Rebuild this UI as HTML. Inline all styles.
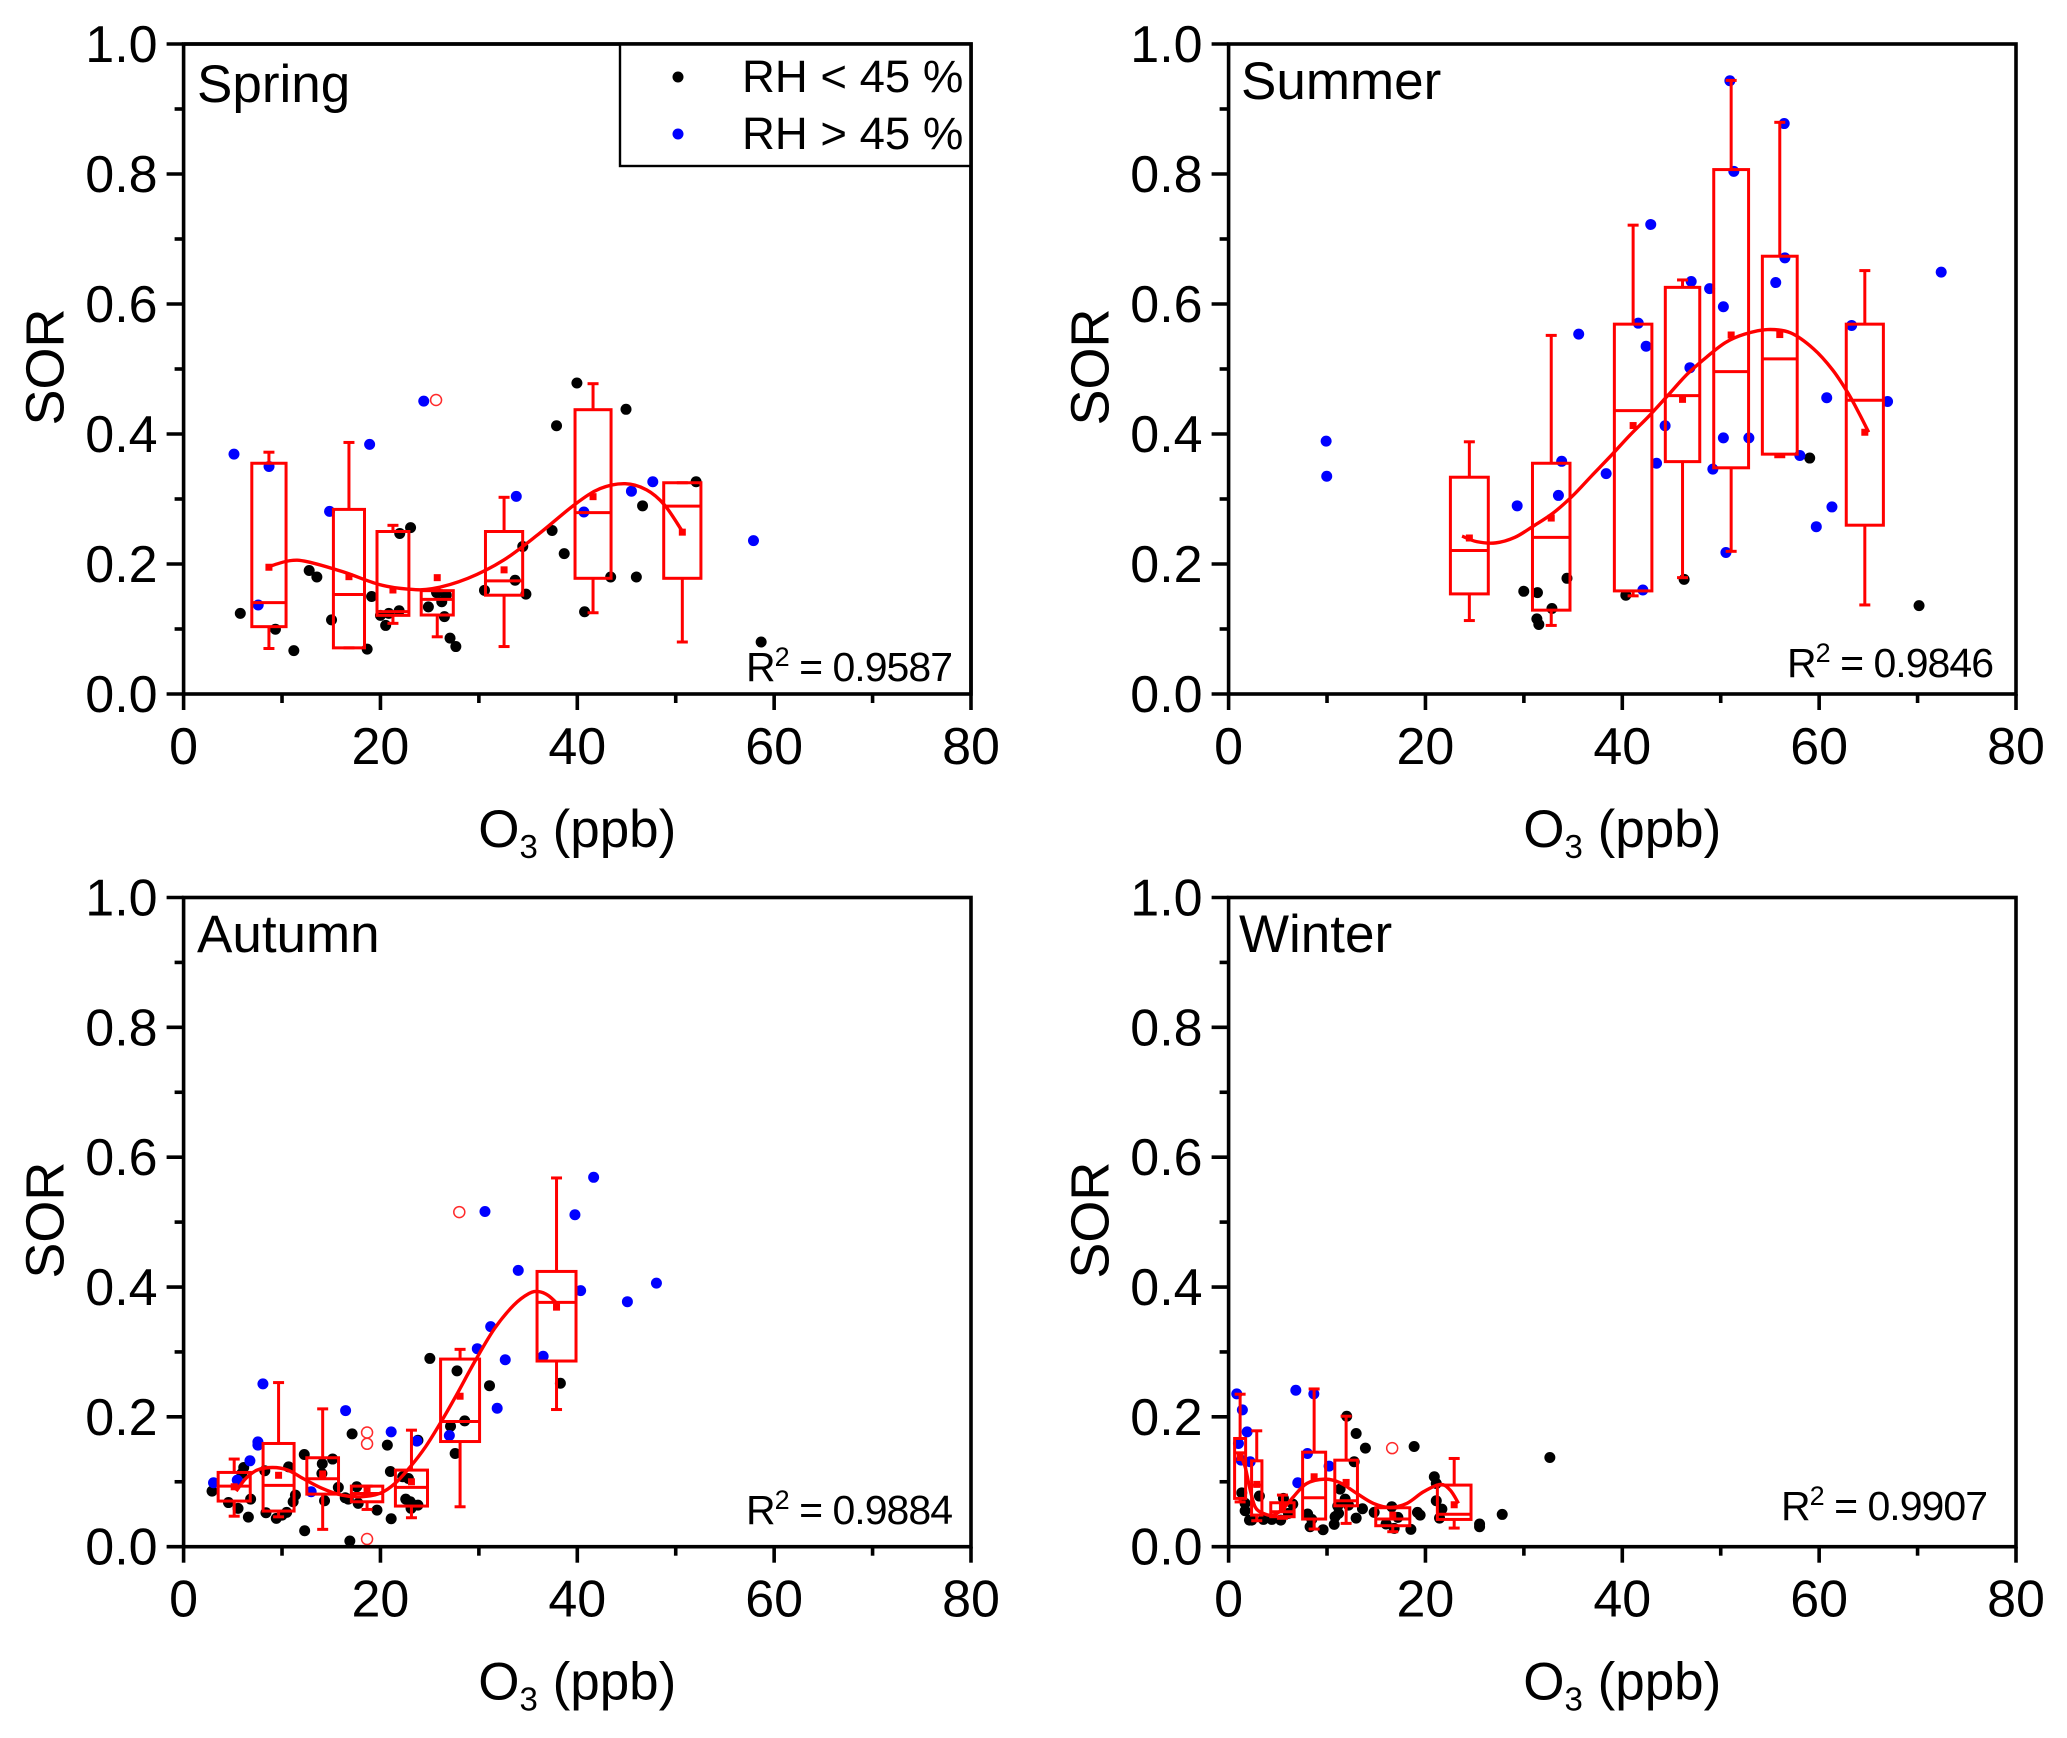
<!DOCTYPE html>
<html lang="en">
<head>
<meta charset="utf-8">
<title>SOR vs O3 by season</title>
<style>
html,body{margin:0;padding:0;background:#fff;width:2067px;height:1738px;overflow:hidden}
svg{display:block}
text{font-family:"Liberation Sans",sans-serif;fill:#000}
</style>
</head>
<body>
<svg id="figure" xmlns="http://www.w3.org/2000/svg" width="2067" height="1738" viewBox="0 0 2067 1738"></svg>
<script>
// ---------- Axis tick labels ----------
const xTickLabels = ["0", "20", "40", "60", "80"];
const xMinorTicks = [10, 30, 50, 70];
const yTickLabels = ["0.0", "0.2", "0.4", "0.6", "0.8", "1.0"];
const yMinorTicks = [0.1, 0.3, 0.5, 0.7, 0.9];

// ---------- Spring ----------
const springBlackX = [5.76,9.33,11.2,12.76,13.54,15.03,18.65,19.1,20.0,20.53,20.85,21.9,21.96,23.06,24.87,25.7,26.23,26.5,26.68,27.07,27.66,30.57,33.68,34.46,34.78,37.44,37.89,38.67,39.96,40.74,43.39,44.95,46.0,46.63,52.07,58.68];
const springBlackY = [.124,.0996,.0667,.19,.18,.114,.069,.15,.121,.1055,.124,.128,.247,.256,.134,.156,.142,.119,.152,.086,.073,.1595,.175,.227,.1536,.2515,.4127,.216,.4785,.1266,.18,.438,.18,.2895,.3266,.08];
const springBlueX = [5.12,7.58,8.68,14.83,18.9,24.4,33.8,40.67,45.5,47.67,57.9];
const springBlueY = [.369,.137,.35,.281,.384,.4506,.304,.28,.312,.3266,.236];
const springBoxX = [8.67,16.8,21.27,25.77,32.56,41.6,50.67];
const springBoxHalf = [1.74,1.58,1.62,1.63,1.89,1.83,1.89];
const springQ1 = [.1036,.071,.121,.1215,.152,.178,.178];
const springMedian = [.1405,.153,.1267,.1456,.174,.279,.289];
const springQ3 = [.355,.284,.25,.159,.25,.4374,.325];
const springMean = [.195,.1805,.16,.179,.191,.3036,.249];
const springWhiskerHigh = [.372,.387,.2595,.159,.3026,.4774,.325];
const springWhiskerLow = [.07,.071,.1087,.088,.073,.125,.08];
const springOutlierX = [25.65];
const springOutlierY = [.4523];
const springFitX = [8.67,10.74,12.56,16.19,19.82,22.72,25.26,28.89,32.52,36.15,39.78,42.32,44.86,47.04,48.85,50.6];
const springFitY = [.196,.205,.2036,.188,.1687,.1615,.162,.178,.206,.247,.292,.316,.3236,.314,.291,.252];

// ---------- Summer ----------
const summerBlackX = [29.99,31.38,31.32,31.52,32.85,34.38,40.36,46.28,59.04,70.15];
const summerBlackY = [.158,.156,.1156,.107,.1316,.178,.152,.1764,.363,.136];
const summerBlueX = [9.91,9.97,29.32,33.51,33.84,35.57,38.36,41.62,42.09,42.42,42.89,43.48,44.35,46.87,47.0,48.87,49.2,50.27,50.27,50.53,50.93,51.33,52.86,55.59,56.45,56.52,58.04,59.71,60.77,61.3,63.3,66.95,72.4];
const summerBlueY = [.389,.335,.2895,.3055,.358,.5536,.339,.5705,.16,.535,.7224,.355,.4127,.502,.6346,.6236,.346,.5958,.394,.2177,.9435,.804,.394,.633,.8776,.671,.367,.2574,.4557,.2878,.567,.45,.649];
const summerBoxX = [24.46,32.78,41.1,46.12,51.06,56.0,64.64];
const summerBoxHalf = [1.925,1.906,1.906,1.75,1.77,1.77,1.886];
const summerQ1 = [.154,.129,.1586,.3575,.348,.369,.2597];
const summerMedian = [.2208,.241,.436,.459,.496,.5155,.452];
const summerQ3 = [.3335,.355,.569,.6256,.8068,.6735,.569];
const summerMean = [.24,.2707,.413,.4533,.5523,.553,.4027];
const summerWhiskerHigh = [.388,.5517,.7213,.637,.944,.8795,.6514];
const summerWhiskerLow = [.113,.1055,.151,.179,.2195,.365,.137];
const summerOutlierX = [];
const summerOutlierY = [];
const summerFitX = [23.72,25.2,27.14,29.09,31.03,32.98,34.92,36.87,38.81,40.76,42.7,44.65,46.59,48.54,50.48,52.43,54.76,57.09,59.43,61.37,62.93,64.1,65.03];
const summerFitY = [.243,.2344,.2325,.241,.259,.2785,.3043,.3354,.366,.398,.4274,.4597,.492,.518,.5407,.5536,.5607,.5556,.531,.4986,.463,.4306,.4027];

// ---------- Autumn ----------
const autumnBlackX = [2.89,4.56,5.53,6.58,6.81,6.11,5.92,8.25,8.37,9.42,10.0,10.47,10.67,11.13,11.36,12.26,12.3,14.09,14.05,15.14,14.32,15.72,16.42,16.73,17.59,17.74,17.12,16.89,19.65,20.7,21.01,21.09,22.26,22.84,22.57,23.03,23.11,23.81,23.81,25.02,27.12,27.59,27.78,28.56,31.08,38.28];
const autumnBlackY = [.0856,.068,.059,.0456,.0733,.122,.113,.117,.0523,.0436,.0487,.0528,.123,.0692,.0795,.142,.0246,.1277,.1128,.135,.0708,.0913,.0754,.0733,.0923,.0667,.1738,.0087,.0564,.1564,.1159,.043,.1077,.105,.0733,.0692,.059,.064,.164,.29,.1856,.1436,.2708,.1938,.248,.2518];
const autumnBlueX = [3.04,5.45,6.74,7.55,7.55,8.06,12.96,16.46,21.09,23.7,27.0,29.84,30.62,31.2,31.86,32.68,34.0,36.53,39.76,40.34,41.66,45.09,48.04];
const autumnBlueY = [.0985,.1026,.1323,.1615,.1564,.2508,.0846,.2097,.1769,.1626,.1713,.305,.5164,.339,.2133,.288,.4256,.2933,.5113,.3944,.569,.3774,.406];
const autumnBoxX = [5.14,9.65,14.13,18.64,23.15,28.09,37.89];
const autumnBoxHalf = [1.63,1.575,1.61,1.595,1.63,1.98,1.98];
const autumnQ1 = [.0703,.0549,.081,.0692,.0626,.162,.286];
const autumnMedian = [.0933,.0944,.1046,.082,.0913,.1928,.3764];
const autumnQ3 = [.1144,.159,.137,.0933,.118,.289,.424];
const autumnMean = [.0923,.11,.112,.0887,.1,.2318,.369];
const autumnWhiskerHigh = [.135,.2528,.2123,.0933,.1795,.304,.568];
const autumnWhiskerLow = [.047,.046,.0267,.0574,.0446,.0615,.2113];
const autumnOutlierX = [28.01,18.64,18.64,18.64];
const autumnOutlierY = [.5154,.1759,.1585,.0118];
const autumnFitX = [5.34,6.31,7.47,9.03,10.59,12.14,14.09,16.03,17.98,19.92,21.48,23.03,24.59,26.15,27.7,29.65,31.59,33.54,35.09,36.06,37.04,38.12];
const autumnFitY = [.0856,.105,.118,.122,.118,.105,.0897,.0795,.0769,.082,.0974,.123,.154,.192,.233,.287,.336,.372,.39,.393,.387,.372];

// ---------- Winter ----------
const winterBlackX = [1.34,1.68,1.68,2.12,2.35,3.13,3.54,4.39,5.3,5.57,6.08,6.52,8.03,8.28,8.45,9.6,10.73,10.82,11.17,11.33,11.09,11.84,12.0,12.18,12.76,12.96,12.96,13.6,13.9,14.79,16.0,16.58,16.82,17.2,18.52,18.85,19.19,19.46,20.9,21.1,21.1,21.67,21.43,25.5,25.5,27.8,32.64];
const winterBlackY = [.083,.0667,.0554,.041,.041,.078,.042,.042,.041,.0744,.0513,.0656,.0503,.0308,.042,.0262,.0344,.0462,.0513,.0887,.0626,.0733,.201,.0641,.1308,.1744,.0441,.0585,.1518,.0528,.0349,.0615,.0282,.0451,.0267,.1544,.0528,.0487,.1077,.0974,.0708,.0579,.0441,.0349,.0308,.0497,.1374];
const winterBlueX = [.83,1.4,1.88,1.0,1.27,2.19,6.83,8.66,8.01,10.21,7.03];
const winterBlueY = [.2354,.2108,.1769,.159,.1333,.1308,.241,.2354,.1436,.1241,.0985];
const winterBoxX = [1.17,2.86,5.47,8.69,11.94,16.68,22.92];
const winterBoxHalf = [.56,.525,1.186,1.17,1.15,1.73,1.71];
const winterQ1 = [.0744,.0487,.0462,.0426,.063,.0323,.042];
const winterMedian = [.1446,.0949,.0538,.0754,.0708,.0426,.05];
const winterQ3 = [.1667,.1323,.0677,.1456,.1333,.06,.0949];
const winterMean = [.1374,.096,.0615,.1077,.099,.0487,.0646];
const winterWhiskerHigh = [.2349,.1785,.0795,.243,.201,.06,.1359];
const winterWhiskerLow = [.069,.04,.0438,.0272,.0359,.0231,.0287];
const winterOutlierX = [16.62];
const winterOutlierY = [.1518];
const winterFitX = [1.24,1.68,2.12,2.69,3.54,4.56,5.57,6.59,7.94,9.81,11.33,13.03,14.72,16.41,18.11,19.8,21.5,22.51,23.36];
const winterFitY = [.1395,.123,.0923,.0615,.0513,.0487,.059,.0769,.0974,.1041,.0985,.082,.0667,.0605,.0667,.0846,.0959,.0872,.0667];

const NS = "http://www.w3.org/2000/svg";
const root = document.getElementById("figure");
const RED = "#ff0000";
const BLUE = "#0000ff";

function mk(parent, tag, attrs) {
  const e = document.createElementNS(NS, tag);
  for (const k in attrs) e.setAttribute(k, attrs[k]);
  parent.appendChild(e);
  return e;
}

function drawPanel(p) {
  const g = mk(root, "g", {});
  
  
  const sx = v => p.left + v * (p.right - p.left) / 80;
  const sy = v => p.bottom - v * (p.bottom - p.top);

  // ticks
  const ticks = mk(g, "g", {stroke: "#000", "stroke-width": 3.6, fill: "none"});
  
  
  xTickLabels.forEach(l => {
    const x = sx(+l);
    mk(ticks, "line", {x1: x, x2: x, y1: p.bottom, y2: p.bottom + 16});
    const t = mk(g, "text", {x: x, y: p.bottom + 70, "font-size": 52, "text-anchor": "middle"});
    t.textContent = l;
    
    
  });
  xMinorTicks.forEach(v => {
    const x = sx(v);
    mk(ticks, "line", {x1: x, x2: x, y1: p.bottom, y2: p.bottom + 9});
  });
  yTickLabels.forEach(l => {
    const y = sy(+l);
    mk(ticks, "line", {x1: p.left, x2: p.left - 17, y1: y, y2: y});
    const t = mk(g, "text", {x: p.left - 26, y: y + 18, "font-size": 52, "text-anchor": "end"});
    t.textContent = l;
    
    
  });
  yMinorTicks.forEach(v => {
    const y = sy(v);
    mk(ticks, "line", {x1: p.left, x2: p.left - 9, y1: y, y2: y});
  });

  // axis titles
  const yT = mk(g, "text", {"font-size": 54, "text-anchor": "middle", transform: "translate(" + (p.left - 120) + " " + ((p.top + p.bottom) / 2 - 2) + ") rotate(-90)"});
  yT.textContent = "SOR";
  
  
  const xT = mk(g, "text", {x: (p.left + p.right) / 2, y: p.bottom + 153, "font-size": 53, "text-anchor": "middle"});
  
  
  xT.appendChild(document.createTextNode("O"));
  mk(xT, "tspan", {"font-size": 33, dy: 11}).textContent = "3";
  mk(xT, "tspan", {dy: -11}).textContent = " (ppb)";

  // scatter
  const black = mk(g, "g", {fill: "#000"});
  
  
  p.blackX.forEach((v, i) => {
    const c = mk(black, "circle", {cx: sx(v), cy: sy(p.blackY[i]), r: 5.5});
    
    
  });
  const blue = mk(g, "g", {fill: BLUE});
  
  
  p.blueX.forEach((v, i) => {
    const c = mk(blue, "circle", {cx: sx(v), cy: sy(p.blueY[i]), r: 5.5});
    
    
  });

  // boxes
  p.boxX.forEach((v, i) => {
    const b = mk(g, "g", {stroke: RED, "stroke-width": 3, fill: "none"});
    
    
    const x = sx(v), xl = sx(v - p.boxHalf[i]), xr = sx(v + p.boxHalf[i]);
    const q1 = sy(p.q1[i]), q3 = sy(p.q3[i]), med = sy(p.median[i]);
    const hi = sy(p.whiskerHigh[i]), lo = sy(p.whiskerLow[i]);
    mk(b, "line", {x1: x, x2: x, y1: q3, y2: hi});
    mk(b, "line", {x1: x, x2: x, y1: q1, y2: lo});
    mk(b, "line", {x1: x - 5.5, x2: x + 5.5, y1: hi, y2: hi});
    mk(b, "line", {x1: x - 5.5, x2: x + 5.5, y1: lo, y2: lo});
    mk(b, "rect", {x: xl, y: q3, width: xr - xl, height: q1 - q3});
    mk(b, "line", {x1: xl, x2: xr, y1: med, y2: med});
    mk(b, "rect", {x: x - 3.5, y: sy(p.mean[i]) - 3.5, width: 7, height: 7, fill: RED, stroke: "none"});
  });

  // outliers
  p.outlierX.forEach((v, i) => {
    const c = mk(g, "circle", {cx: sx(v), cy: sy(p.outlierY[i]), r: 5.5, fill: "none", stroke: "#ff2a2a", "stroke-width": 1.5});
    
    
  });

  // fit curve (Catmull-Rom through the read-off values)
  const pts = p.fitX.map((v, i) => [sx(v), sy(p.fitY[i])]);
  let d = "M" + pts[0][0] + " " + pts[0][1];
  for (let i = 0; i < pts.length - 1; i++) {
    const a = pts[Math.max(i - 1, 0)], b = pts[i], c = pts[i + 1], e = pts[Math.min(i + 2, pts.length - 1)];
    d += " C" + (b[0] + (c[0] - a[0]) / 6) + " " + (b[1] + (c[1] - a[1]) / 6) + " " +
         (c[0] - (e[0] - b[0]) / 6) + " " + (c[1] - (e[1] - b[1]) / 6) + " " + c[0] + " " + c[1];
  }
  const fit = mk(g, "path", {d: d, fill: "none", stroke: RED, "stroke-width": 3.4});
  
  

  // frame
  const frame = mk(g, "rect", {x: p.left, y: p.top, width: p.right - p.left, height: p.bottom - p.top, fill: "none", stroke: "#000", "stroke-width": 3.6});
  
  

  // season label
  const s = mk(g, "text", {x: p.labelX, y: p.labelY, "font-size": 53});
  s.textContent = p.label;
  
  

  // R squared
  const r = mk(g, "text", {x: p.r2X, y: p.r2Y, "font-size": 41, textLength: 207, lengthAdjust: "spacing"});
  
  
  r.appendChild(document.createTextNode("R"));
  mk(r, "tspan", {"font-size": 27, dy: -15}).textContent = "2";
  mk(r, "tspan", {dy: 15}).textContent = " = " + p.r2;
}

const panels = [
  {key: "spring", label: "Spring", r2: "0.9587", left: 183.6, right: 971, top: 44, bottom: 694, labelX: 197, labelY: 102, r2X: 746, r2Y: 681,
   blackX: springBlackX, blackY: springBlackY, blueX: springBlueX, blueY: springBlueY, boxX: springBoxX, boxHalf: springBoxHalf, q1: springQ1, median: springMedian, q3: springQ3, mean: springMean, whiskerHigh: springWhiskerHigh, whiskerLow: springWhiskerLow, outlierX: springOutlierX, outlierY: springOutlierY, fitX: springFitX, fitY: springFitY},
  {key: "summer", label: "Summer", r2: "0.9846", left: 1228.6, right: 2016, top: 44, bottom: 694, labelX: 1241, labelY: 99, r2X: 1787, r2Y: 677,
   blackX: summerBlackX, blackY: summerBlackY, blueX: summerBlueX, blueY: summerBlueY, boxX: summerBoxX, boxHalf: summerBoxHalf, q1: summerQ1, median: summerMedian, q3: summerQ3, mean: summerMean, whiskerHigh: summerWhiskerHigh, whiskerLow: summerWhiskerLow, outlierX: summerOutlierX, outlierY: summerOutlierY, fitX: summerFitX, fitY: summerFitY},
  {key: "autumn", label: "Autumn", r2: "0.9884", left: 183.6, right: 971, top: 897.5, bottom: 1546.7, labelX: 197, labelY: 952, r2X: 746, r2Y: 1524,
   blackX: autumnBlackX, blackY: autumnBlackY, blueX: autumnBlueX, blueY: autumnBlueY, boxX: autumnBoxX, boxHalf: autumnBoxHalf, q1: autumnQ1, median: autumnMedian, q3: autumnQ3, mean: autumnMean, whiskerHigh: autumnWhiskerHigh, whiskerLow: autumnWhiskerLow, outlierX: autumnOutlierX, outlierY: autumnOutlierY, fitX: autumnFitX, fitY: autumnFitY},
  {key: "winter", label: "Winter", r2: "0.9907", left: 1228.6, right: 2016, top: 897.5, bottom: 1546.7, labelX: 1239, labelY: 952, r2X: 1781, r2Y: 1520,
   blackX: winterBlackX, blackY: winterBlackY, blueX: winterBlueX, blueY: winterBlueY, boxX: winterBoxX, boxHalf: winterBoxHalf, q1: winterQ1, median: winterMedian, q3: winterQ3, mean: winterMean, whiskerHigh: winterWhiskerHigh, whiskerLow: winterWhiskerLow, outlierX: winterOutlierX, outlierY: winterOutlierY, fitX: winterFitX, fitY: winterFitY}
];
panels.forEach(drawPanel);

// ---------- Legend ----------
const legendLabels = ["RH < 45 %", "RH > 45 %"];
const legendColors = ["#000", BLUE];
const legend = mk(root, "g", {});


mk(legend, "rect", {x: 620, y: 44, width: 351, height: 122, fill: "#fff", stroke: "#000", "stroke-width": 2.4});
mk(legend, "path", {d: "M184 44H971V694", fill: "none", stroke: "#000", "stroke-width": 3.6});
legendLabels.forEach((l, i) => {
  const y = 77 + i * 57;
  const c = mk(legend, "circle", {cx: 678, cy: y, r: 5.5, fill: legendColors[i]});
  
  
  const t = mk(legend, "text", {x: 742, y: y + 15, "font-size": 45.5});
  t.textContent = l;
  
  
});
</script>
</body>
</html>
